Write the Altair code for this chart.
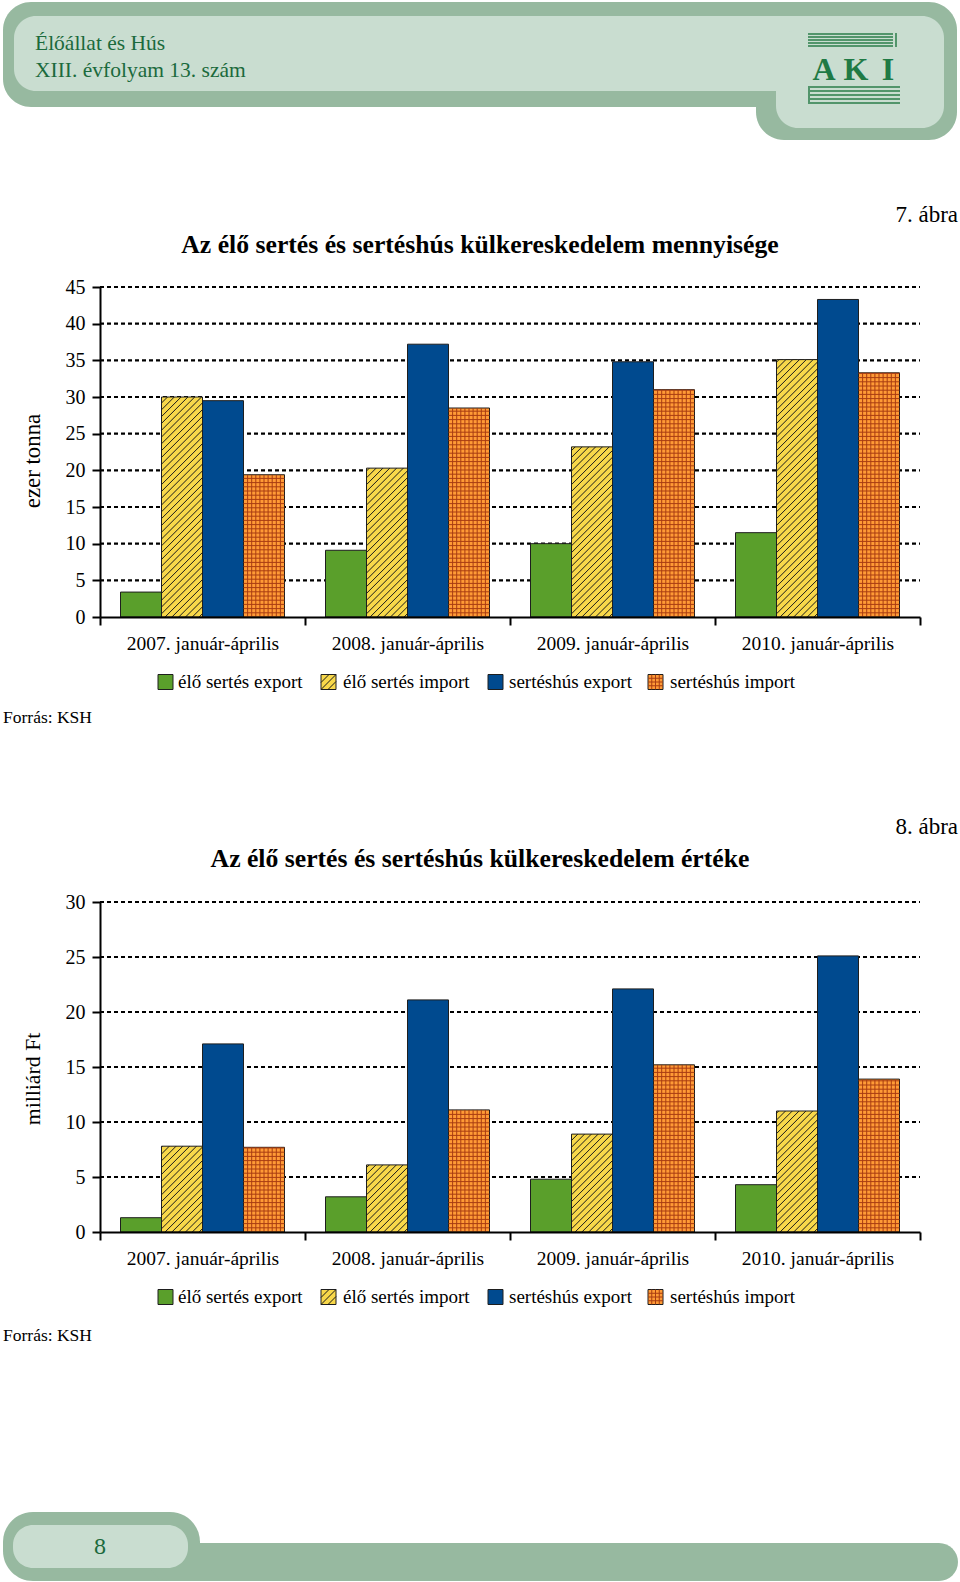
import altair as alt
import pandas as pd

# ---------------- data ----------------
groups = ["2007. január-április", "2008. január-április",
          "2009. január-április", "2010. január-április"]
series = ["élő sertés export", "élő sertés import", "sertéshús export", "sertéshús import"]

# 7. ábra - mennyiség (ezer tonna)
qty_live_export = [3.4, 9.1, 10.0, 11.5]
qty_live_import = [30.0, 20.3, 23.2, 35.1]
qty_pork_export = [29.5, 37.2, 34.8, 43.3]
qty_pork_import = [19.4, 28.5, 31.0, 33.3]

# 8. ábra - érték (milliárd Ft)
val_live_export = [1.3, 3.2, 4.8, 4.3]
val_live_import = [7.8, 6.1, 8.9, 11.0]
val_pork_export = [17.1, 21.1, 22.1, 25.1]
val_pork_import = [7.7, 11.1, 15.2, 13.9]

qty_ticks = [0, 5, 10, 15, 20, 25, 30, 35, 40, 45]
val_ticks = [0, 5, 10, 15, 20, 25, 30]

# ---------------- styling / layout ----------------
FONT = "Liberation Serif"
W, H = 960, 1582
X0, X1 = 100, 920
NQ = 20  # quantitative units across the plot (5 per group, 1 per bar)
colors = ["#5a9f2b", "#f8d84a", "#004a8f", "#ff9a36"]
HEAD_DARK = "#97b9a0"
HEAD_LIGHT = "#c9ddd0"
TXT_GREEN = "#1b6a3c"


def one():
    return pd.DataFrame({"k": [0]})


def rect(x, x2, y, y2, color, r=0, stroke=None):
    kw = dict(color=color, cornerRadius=r)
    if stroke:
        kw = dict(fill=color, stroke=stroke, strokeWidth=1, cornerRadius=r)
    return alt.Chart(one()).mark_rect(**kw).encode(
        x=alt.value(x), x2=alt.value(x2), y=alt.value(y), y2=alt.value(y2))


def line(x, y, x2, y2, color="black", w=1.0):
    return alt.Chart(one()).mark_rule(color=color, strokeWidth=w).encode(
        x=alt.value(x), x2=alt.value(x2), y=alt.value(y), y2=alt.value(y2))


def txt(s, x, y, size, color="black", align="left", weight="normal", angle=0):
    return alt.Chart(one()).mark_text(
        text=s, fontSize=size, color=color, align=align, baseline="middle",
        fontWeight=weight, font=FONT, angle=angle).encode(x=alt.value(x), y=alt.value(y))


def panel(vals, ymax, ticks, y0, y1):
    rows = []
    for si, (s, vv) in enumerate(zip(series, vals)):
        for gi, (g, v) in enumerate(zip(groups, vv)):
            rows.append({"group": g, "series": s, "value": v, "si": si,
                         "xq": 5 * gi + 0.5 + si, "xq2": 5 * gi + 1.5 + si})
    df = pd.DataFrame(rows)

    yscale = alt.Scale(domain=[0, ymax], range=[y0, y1], nice=False, zero=True)
    xband = alt.Scale(domain=groups, range=[X0, X1], paddingInner=0, paddingOuter=0)
    xoff = alt.Scale(domain=series, paddingInner=0, paddingOuter=0.5)
    xq = alt.Scale(domain=[0, NQ], range=[X0, X1], nice=False, zero=False)

    grid = alt.Chart(pd.DataFrame({"t": ticks[1:]})).mark_rule(
        color="black", strokeWidth=2.2, strokeDash=[4, 3]).encode(
        y=alt.Y("t:Q", scale=yscale, axis=None),
        x=alt.value(X0), x2=alt.value(X1))

    bars = alt.Chart(df).mark_bar(stroke="#1e1e1e", strokeWidth=1).encode(
        x=alt.X("group:N", scale=xband, sort=groups, title=None,
                axis=alt.Axis(orient="bottom", offset=y0 - H, labelFont=FONT,
                              labelFontSize=19.5, labelColor="black", labelAngle=0,
                              domainColor="black", domainWidth=2, tickColor="black",
                              tickWidth=2, tickSize=8, tickBand="extent",
                              labelPadding=9, grid=False, zindex=1)),
        xOffset=alt.XOffset("series:N", scale=xoff, sort=series),
        y=alt.Y("value:Q", scale=yscale, title=None,
                axis=alt.Axis(orient="left", offset=-X0, values=ticks, labelFont=FONT,
                              labelFontSize=20, labelColor="black", domainColor="black",
                              domainWidth=2, tickColor="black", tickWidth=2, tickSize=8,
                              labelPadding=7, grid=False, zindex=1)),
        fill=alt.Fill("series:N", scale=alt.Scale(domain=series, range=colors), legend=None),
    )

    px_x = (X1 - X0) / NQ
    px_y = (y0 - y1) / ymax
    hatch = []
    gridp = []
    for _, r in df.iterrows():
        if r.si == 1:
            hp = r.value * px_y
            step = 6.8
            c = -px_x + step / 2
            while c < hp:
                xs = max(0.0, -c)
                xe = min(px_x, hp - c)
                if xe > xs + 0.3:
                    hatch.append({"x": r.xq + xs / px_x, "x2": r.xq + xe / px_x,
                                  "y": (xs + c) / px_y, "y2": (xe + c) / px_y})
                c += step
        if r.si == 3:
            for j in range(1, 10):
                xv = r.xq + j * 0.1
                gridp.append({"x": xv, "x2": xv, "y": 0.0, "y2": r.value})
            sy = 4.2 / px_y
            k = 1
            while k * sy < r.value - 0.05:
                gridp.append({"x": r.xq, "x2": r.xq2, "y": k * sy, "y2": k * sy})
                k += 1

    def rules(d, color, w):
        return alt.Chart(pd.DataFrame(d)).mark_rule(color=color, strokeWidth=w).encode(
            x=alt.X("x:Q", scale=xq, axis=None), x2="x2:Q",
            y=alt.Y("y:Q", scale=yscale, axis=None), y2="y2:Q")

    return [grid, bars, rules(hatch, "#1a1a1a", 1.0), rules(gridp, "#a83c12", 1.0)]


def legend(yc):
    sw_x = [158, 321, 488, 648]
    tx_x = [178, 343, 509, 670]
    out = []
    for i in range(4):
        out.append(rect(sw_x[i], sw_x[i] + 15, yc - 7.5, yc + 7.5, colors[i], stroke="#1e1e1e"))
        out.append(txt(series[i], tx_x[i], yc, 19))
    # little hatch / grid inside swatches
    x, t = sw_x[1], yc - 7.5
    out += [line(x, t + 8, x + 8, t, "#1a1a1a"), line(x, t + 15, x + 15, t, "#1a1a1a"),
            line(x + 7, t + 15, x + 15, t + 7, "#1a1a1a")]
    x = sw_x[3]
    for k in (3.75, 7.5, 11.25):
        out.append(line(x + k, t, x + k, t + 15, "#a83c12"))
        out.append(line(x, t + k, x + 15, t + k, "#a83c12"))
    return out


layers = []
# header
layers += [rect(3, 957, 2, 107, HEAD_DARK, 28), rect(756, 957, 40, 140, HEAD_DARK, 28),
           rect(14, 944, 16, 91, HEAD_LIGHT, 22), rect(776, 944, 30, 128, HEAD_LIGHT, 22)]
layers += [txt("Élőállat és Hús", 35, 44, 21.5, TXT_GREEN),
           txt("XIII. évfolyam 13. szám", 35, 71, 21.5, TXT_GREEN)]
# AKI logo
for yy in (34, 37, 40, 43, 46):
    layers.append(line(808, yy, 893, yy, "#2a7d4a", 1.3))
layers.append(line(896, 33, 896, 47, "#2a7d4a", 1.5))
for yy in (87, 91, 95, 99, 103):
    layers.append(line(810, yy, 900, yy, "#2a7d4a", 1.3))
layers.append(line(809, 86, 809, 104, "#2a7d4a", 1.5))
for ch, xx in (("A", 824), ("K", 856), ("I", 888)):
    layers.append(txt(ch, xx, 70, 32, "#1f7a45", "center", "bold"))

# chart 1
layers += [txt("7. ábra", 958, 215, 23, align="right"),
           txt("Az élő sertés és sertéshús külkereskedelem mennyisége", 480, 245, 25.7,
               align="center", weight="bold"),
           txt("ezer tonna", 33, 461, 22.8, angle=270, align="center")]
layers += panel([qty_live_export, qty_live_import, qty_pork_export, qty_pork_import],
                45, qty_ticks, 617, 287)
layers += legend(682)
layers.append(txt("Forrás: KSH", 3, 718, 17.5))

# chart 2
layers += [txt("8. ábra", 958, 827, 23, align="right"),
           txt("Az élő sertés és sertéshús külkereskedelem értéke", 480, 859, 25.7,
               align="center", weight="bold"),
           txt("milliárd Ft", 33, 1079, 21.8, angle=270, align="center")]
layers += panel([val_live_export, val_live_import, val_pork_export, val_pork_import],
                30, val_ticks, 1232, 902)
layers += legend(1297)
layers.append(txt("Forrás: KSH", 3, 1336, 17.5))

# footer
layers += [rect(3, 200, 1512, 1581, HEAD_DARK, 30), rect(150, 958, 1543, 1581, HEAD_DARK, 19),
           rect(13, 188, 1525, 1568, HEAD_LIGHT, 20),
           txt("8", 100, 1547, 24, TXT_GREEN, "center")]

chart = alt.layer(*layers).resolve_scale(x="independent", y="independent").properties(
    width=W, height=H, padding=0, background="white",
    autosize=alt.AutoSizeParams(type="none")).configure_view(stroke=None)

chart.save("out.html", embed_options={"renderer": "svg", "actions": False})
